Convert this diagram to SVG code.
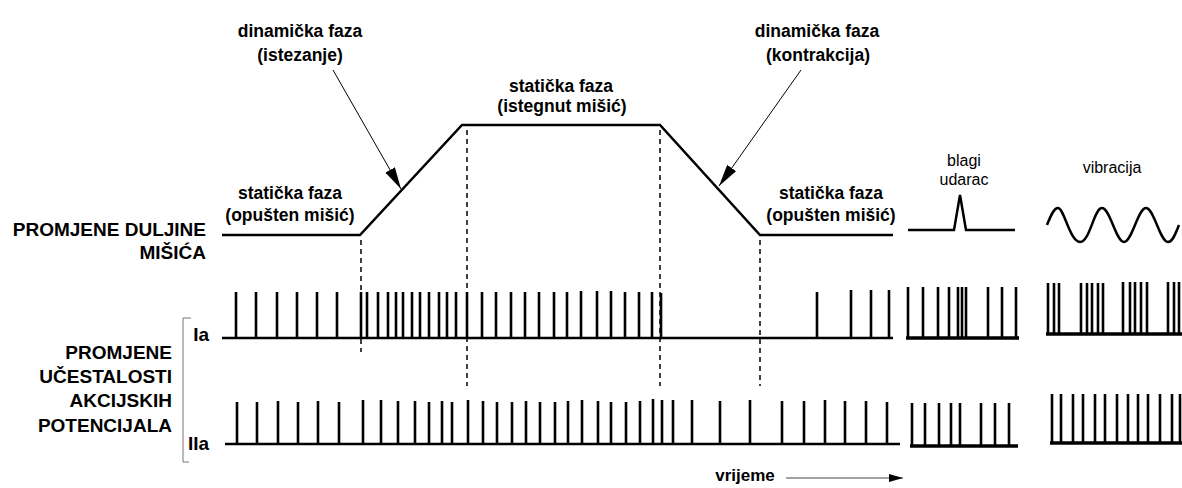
<svg xmlns="http://www.w3.org/2000/svg" width="1182" height="488" viewBox="0 0 1182 488">
<defs>
<style>
.lbl{font-family:"Liberation Sans",Arial,sans-serif;font-weight:bold;font-size:17.5px;fill:#000;text-anchor:middle}
.cap{font-family:"Liberation Sans",Arial,sans-serif;font-weight:bold;font-size:19px;fill:#000;text-anchor:end}
.sm{font-family:"Liberation Sans",Arial,sans-serif;font-size:16px;fill:#000;text-anchor:middle}
.wave{fill:none;stroke:#000;stroke-width:2.5;stroke-linejoin:miter}
.spk{fill:none;stroke:#000;stroke-width:2.6}
.base{fill:none;stroke:#000;stroke-width:2.5}
.baseB{fill:none;stroke:#000;stroke-width:3.5}
.dash{fill:none;stroke:#000;stroke-width:1.5;stroke-dasharray:5 4}
.thin{fill:none;stroke:#777;stroke-width:1}
</style>
<marker id="ah" viewBox="0 0 14 8" refX="14" refY="4" markerWidth="14" markerHeight="8" markerUnits="userSpaceOnUse" orient="auto">
<path d="M0,0 L14,4 L0,8 Z" fill="#000"/>
</marker>
<marker id="ah2" viewBox="0 0 22 11" refX="22" refY="5.5" markerWidth="22" markerHeight="11" markerUnits="userSpaceOnUse" orient="auto">
<path d="M0,0 L22,5.5 L0,11 Z" fill="#000"/>
</marker>
</defs>
<rect width="1182" height="488" fill="#fff"/>

<g id="length-trace">
<path class="wave" d="M222,235 H360 L462,125 H660 L760,235 H893"/>
</g>
<g id="tap-trace">
<path class="wave" d="M908,230 H954 L960,195 L966,230 H1015"/>
</g>
<g id="vibration-trace">
<path class="wave" d="M1047,225 C1051,215 1054,208 1058,208 C1064,208 1070,242 1080,242 C1090,242 1094,208 1102,208 C1110,208 1116,242 1124,242 C1132,242 1138,208 1146,208 C1154,208 1160,242 1168,242 C1173,242 1176,232 1179,225"/>
</g>

<g id="labels-top">
<text class="lbl" x="300" y="37">dinamička faza</text>
<text class="lbl" x="300" y="61">(istezanje)</text>
<text class="lbl" x="561" y="92">statička faza</text>
<text class="lbl" x="562" y="112">(istegnut mišić)</text>
<text class="lbl" x="817" y="37">dinamička faza</text>
<text class="lbl" x="818" y="61">(kontrakcija)</text>
<text class="lbl" x="290" y="199">statička faza</text>
<text class="lbl" x="290" y="221">(opušten mišić)</text>
<text class="lbl" x="831" y="199">statička faza</text>
<text class="lbl" x="831" y="221">(opušten mišić)</text>
<text class="sm" x="964" y="166">blagi</text>
<text class="sm" x="964" y="185">udarac</text>
<text class="sm" x="1112" y="173">vibracija</text>
</g>

<g id="labels-left">
<text class="cap" x="206" y="236">PROMJENE DULJINE</text>
<text class="cap" x="206" y="259">MIŠIĆA</text>
<text class="cap" x="172" y="359">PROMJENE</text>
<text class="cap" x="172" y="383">UČESTALOSTI</text>
<text class="cap" x="172" y="407">AKCIJSKIH</text>
<text class="cap" x="172" y="432">POTENCIJALA</text>
<text class="cap" x="209" y="341">Ia</text>
<text class="cap" x="209" y="450">IIa</text>
<path class="thin" d="M191,318 H183 V462 H189"/>
</g>

<g id="ia-train">
<path class="base" d="M222,338 H893"/>
<path class="spk" d="M236,338V292M256,338V292M277,338V292M297,338V292M317,338V292M337,338V292M361,338V292M367,338V292M378,338V292M388,338V292M396,338V292M403,338V292M412,338V292M420,338V292M429,338V292M439,338V292M447,338V292M456,338V292M467,338V292M482,338V292M496,338V292M511,338V292M525,338V292M539,338V292M554,338V292M567,338V292M581,338V291M597,338V291M611,338V291M625,338V292M639,338V292M652,338V292M661,338V293M817,338V292M851,338V290M871,338V290M889,338V290"/>
</g>
<g id="ia-tap">
<path class="baseB" d="M906,338 H1019"/>
<path class="spk" d="M908,338V287M923,338V287M938,338V287M949,338V287M958,338V287M962,338V287M966,338V287M988,338V287M1002,338V287M1016,338V287"/>
</g>
<g id="ia-vib">
<path class="baseB" d="M1046,334 H1182"/>
<path class="spk" d="M1048,334V283M1054,334V283M1059,334V283M1081,334V283M1087,334V283M1092,334V283M1098,334V283M1103,334V283M1123,334V282M1130,334V282M1135,334V282M1141,334V282M1147,334V282M1168,334V282M1174,334V282M1179,334V282"/>
</g>

<g id="iia-train">
<path class="base" d="M225,444 H900"/>
<path class="spk" d="M237,444V402M257,444V402M278,444V401M298,444V402M318,444V401M339,444V402M363,444V400M381,444V400M398,444V401M415,444V401M429,444V402M442,444V401M452,444V402M468,444V400M483,444V401M497,444V402M512,444V402M526,444V401M540,444V402M555,444V402M568,444V401M582,444V400M598,444V401M611,444V402M626,444V402M640,444V401M653,444V399M662,444V400M673,444V400M692,444V400M720,444V401M750,444V400M782,444V401M804,444V401M825,444V400M845,444V401M866,444V401M887,444V402"/>
</g>
<g id="iia-tap">
<path class="baseB" d="M910,446 H1018"/>
<path class="spk" d="M912,446V403M925,446V403M939,446V403M951,446V403M960,446V403M981,446V403M995,446V403M1009,446V403"/>
</g>
<g id="iia-vib">
<path class="baseB" d="M1050,443 H1182"/>
<path class="spk" d="M1052,443V394M1061,443V394M1073,443V394M1083,443V394M1095,443V394M1105,443V394M1117,443V394M1128,443V394M1138,443V394M1148,443V394M1160,443V394M1172,443V394M1180,443V394"/>
</g>

<g id="connectors">
<path class="dash" d="M361,240 V352"/>
<path class="dash" d="M467,130 V386"/>
<path class="dash" d="M660,130 V386"/>
<path class="dash" d="M760,240 V386"/>
<path d="M333,70 L401,189" stroke="#000" stroke-width="1" fill="none" marker-end="url(#ah2)"/>
<path d="M801,70 L719,186" stroke="#000" stroke-width="1" fill="none" marker-end="url(#ah2)"/>
<path d="M786,478 H903" stroke="#444" stroke-width="1" fill="none" marker-end="url(#ah)"/>
<text class="sm" x="745" y="481" style="font-weight:bold;font-size:17px">vrijeme</text>
</g>
</svg>
